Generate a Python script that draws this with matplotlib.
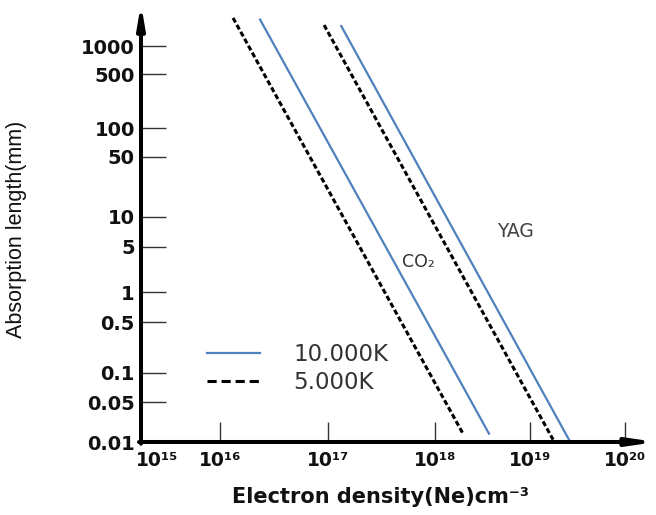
import numpy as np
import matplotlib.pyplot as plt
from matplotlib.lines import Line2D
from matplotlib.transforms import ScaledTranslation

# электронная плотность (cm^-3) и длина поглощения (mm) -- концы прямых
co2_ne_10k = [2.35e16, 3.7e18]
co2_len_10k = [2100, 0.014]
co2_ne_5k = [1.32e16, 1.97e18]
co2_len_5k = [2200, 0.014]
yag_ne_10k = [1.33e17, 2.57e19]
yag_len_10k = [1750, 0.011]
yag_ne_5k = [9.2e16, 1.75e19]
yag_len_5k = [1800, 0.011]

x_ticks = [1e15, 1e16, 1e17, 1e18, 1e19, 1e20]
x_labels = ['10¹⁵', '10¹⁶', '10¹⁷', '10¹⁸', '10¹⁹', '10²⁰']
y_ticks = [0.01, 0.05, 0.1, 0.5, 1, 5, 10, 50, 100, 500, 1000]
y_labels = ['0.01', '0.05', '0.1', '0.5', '1', '5', '10', '50', '100', '500', '1000']
legend_names = ['10.000K', '5.000K']

# шкала нарисована "от руки": декады неравной длины, задаем кусочно
x_knot_vals = [1e14, 1e15, 1e16, 1e17, 1e18, 1e19, 1e20, 1e21]
x_knot_pos = [-95, 0, 79, 187, 294, 389, 484, 579]
y_knot_vals = [1e-3, 0.01, 0.05, 0.1, 0.5, 1, 5, 10, 50, 100, 500, 1000, 1e4]
y_knot_pos = [-57, 0, 40, 69, 120, 150, 195, 225, 285, 314, 368, 396, 478]


def piecewise_log(vals, pos):
    lv = np.log10(vals)
    def fwd(v):
        v = np.clip(np.asarray(v, dtype=float), 1e-300, None)
        return np.interp(np.log10(v), lv, pos)
    def inv(p):
        return 10 ** np.interp(p, pos, lv)
    return fwd, inv


fx, ix = piecewise_log(x_knot_vals, x_knot_pos)
fy, iy = piecewise_log(y_knot_vals, y_knot_pos)

fig = plt.figure(figsize=(6.56, 5.15), dpi=100)
ax = fig.add_axes([141 / 656, 73 / 515, 509 / 656, 434 / 515])
ax.set_xscale('function', functions=(fx, ix))
ax.set_yscale('function', functions=(fy, iy))
ax.set_xlim(ix(0), ix(509))
ax.set_ylim(iy(0), iy(434))

blue = '#4F81BD'
dash = (0, (1.7, 0.9))
ax.plot(co2_ne_5k, co2_len_5k, color='black', lw=2.2, ls=dash, clip_on=False)
ax.plot(co2_ne_10k, co2_len_10k, color=blue, lw=1.6, clip_on=False)
ax.plot(yag_ne_5k, yag_len_5k, color='black', lw=2.2, ls=dash, clip_on=False)
ax.plot(yag_ne_10k, yag_len_10k, color=blue, lw=1.6, clip_on=False)

# оси со стрелками вместо рамки
for s in ax.spines.values():
    s.set_visible(False)
ax.annotate('', xy=(1.012, 0), xytext=(-0.004, 0), xycoords='axes fraction',
            arrowprops=dict(arrowstyle='-|>,head_length=1.5,head_width=0.22',
                            lw=2.9, color='black', shrinkA=0, shrinkB=0),
            annotation_clip=False)
ax.annotate('', xy=(0, 1.01), xytext=(0, -0.004), xycoords='axes fraction',
            arrowprops=dict(arrowstyle='-|>,head_length=1.3,head_width=0.22',
                            lw=2.9, color='black', shrinkA=0, shrinkB=0),
            annotation_clip=False)

ax.set_xticks(x_ticks)
ax.set_xticklabels(x_labels, fontweight='bold', fontsize=13.5, color='#111111')
ax.set_yticks(y_ticks)
ax.set_yticklabels(y_labels, fontweight='bold', fontsize=14, color='#111111')
ax.tick_params(axis='x', direction='in', length=14.4, width=1, color='#333333', pad=6.5)
ax.tick_params(axis='y', direction='in', length=18, width=1, color='#333333', pad=4.5)
ax.minorticks_off()
lab0 = ax.get_xticklabels()[0]
lab0.set_transform(lab0.get_transform() + ScaledTranslation(0.16, 0, fig.dpi_scale_trans))

# подписи лазеров
ax.text(0.545, 0.415, 'CO₂', transform=ax.transAxes, fontsize=12.5,
        color='#333333', ha='center', va='center')
ax.text(0.735, 0.486, 'YAG', transform=ax.transAxes, fontsize=13.5,
        color='#444444', ha='center', va='center')

handles = [Line2D([], [], color=blue, lw=1.6),
           Line2D([], [], color='black', lw=2.2, ls=(0, (3.0, 1.6)))]
ax.legend(handles, legend_names, loc='upper left', bbox_to_anchor=(0.1297, 0.228),
          frameon=False, fontsize=16.5, handlelength=2.3, handletextpad=1.45,
          labelspacing=0.22, borderpad=0, borderaxespad=0, labelcolor='#333333')

fig.text(380 / 656, (515 - 503) / 515, 'Electron density(Ne)cm⁻³', fontsize=15,
         fontweight='bold', ha='center', va='baseline', color='#111111')
fig.text(17 / 656, (515 - 229) / 515, 'Absorption length(mm)', fontsize=15.5,
         family='Liberation Sans', rotation=90, ha='center', va='center', color='#111111')

fig.savefig('out.png', dpi=100)
